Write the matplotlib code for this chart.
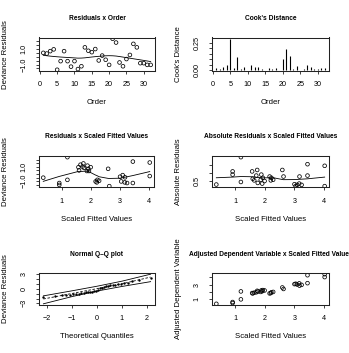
import matplotlib
matplotlib.use("Agg")
import matplotlib.pyplot as plt
import numpy as np
from statistics import NormalDist

# residuals in observation order (panel 1)
order = list(range(1, 33))
resid = [0.51, 0.42, 0.73, 0.96, -1.67, -0.56, 0.73, -0.56, -1.27, -0.56,
         -1.58, -1.22, 1.22, 0.78, 0.60, 1.00, -0.47, 0.16, -0.38, -1.04,
         2.33, 1.84, -0.73, -1.22, -0.29, 0.24, 1.67, 1.22, -0.82, -0.82,
         -1.04, -1.04]
cooks = [0.016, 0.010, 0.032, 0.045, 0.290, 0.016, 0.120, 0.013, 0.030, 0.003,
         0.048, 0.032, 0.029, 0.010, 0.003, 0.019, 0.010, 0.016, 0.003, 0.100,
         0.194, 0.130, 0.010, 0.039, 0.003, 0.010, 0.048, 0.029, 0.010, 0.010,
         0.023, 0.023]

# values against scaled fitted values (panels 3, 4, 6)
fitted = [0.36, 0.91, 0.91, 1.19, 1.19, 1.57, 1.74, 1.59, 1.71, 1.64,
          1.76, 1.88, 1.93, 1.86, 1.99, 1.91, 2.16, 2.22, 2.20, 2.28,
          2.59, 2.63, 3.00, 3.04, 3.09, 3.16, 3.17, 3.24, 3.44, 3.44,
          4.02, 4.02]
resid_fit = [-0.50, -1.24, -1.50, 2.33, -0.80, 0.94, 1.46, 0.50, 1.03, 1.29,
             0.85, 1.16, 0.42, 0.42, 0.94, 0.72, -1.02, -0.80, -1.15, -0.93,
             0.72, -1.67, -0.37, -1.02, -0.15, -1.15, -0.45, -1.24, 1.72, -1.24,
             1.59, -0.28]
abs_resid = [0.28, 1.10, 0.90, 1.99, 0.44, 1.10, 1.19, 0.64, 0.84, 0.54,
             0.38, 0.90, 0.70, 0.58, 0.50, 0.34, 0.78, 0.70, 0.54, 0.58,
             1.19, 0.78, 0.30, 0.18, 0.26, 0.34, 0.78, 0.26, 1.55, 0.84,
             1.45, 0.18]
adj_dep = [0.40, 0.64, 0.50, 2.07, 1.00, 1.85, 2.15, 1.80, 1.95, 1.90,
           2.05, 2.20, 2.25, 2.00, 2.20, 2.10, 1.80, 1.95, 1.85, 2.00,
           2.60, 2.40, 3.05, 3.10, 3.00, 3.15, 2.85, 2.95, 4.25, 3.18,
           4.39, 4.00]

# simulated envelope for the Q-Q plot
env_q = [-2.15, -1.0, 0.0, 1.0, 2.15]
env_lower = [-3.10, -1.60, -0.45, 0.50, 1.50]
env_mid = [-2.10, -0.95, 0.05, 1.05, 2.45]
env_upper = [-1.45, -0.40, 0.55, 1.60, 3.05]


def lowess(x, y, f=2/3, it=3):
    x = np.asarray(x, float)
    y = np.asarray(y, float)
    idx = np.argsort(x, kind="stable")
    x, y = x[idx], y[idx]
    n = len(x)
    r = int(np.ceil(f * n))
    delta = np.ones(n)
    yest = np.zeros(n)
    for _ in range(it + 1):
        for i in range(n):
            d = np.abs(x - x[i])
            h = np.sort(d)[r - 1]
            w = np.clip(d / h, 0, 1)
            w = (1 - w ** 3) ** 3 * delta
            sw = w.sum()
            xm = (w * x).sum() / sw
            ym = (w * y).sum() / sw
            sxx = (w * (x - xm) ** 2).sum()
            b = (w * (x - xm) * (y - ym)).sum() / sxx if sxx > 1e-12 else 0
            yest[i] = ym + b * (x[i] - xm)
        res = y - yest
        s = np.median(np.abs(res))
        u = np.clip(res / (6 * s), -1, 1)
        delta = (1 - u ** 2) ** 2
    return x, yest


plt.rcParams['font.family'] = ['Liberation Sans', 'DejaVu Sans']
W, H = 349, 353
fig = plt.figure(figsize=(W / 100, H / 100), dpi=100)


def panel(l, t, r, b, title, xlabel, ylabel):
    ax = fig.add_axes([l / W, 1 - b / H, (r - l) / W, (b - t) / H])
    hpx, wpx = b - t, r - l
    for s in ax.spines.values():
        s.set_linewidth(0.75)
        s.set_color("#222222")
    ax.tick_params(length=2.4, width=0.6, labelsize=5.2, color="#222222")
    ax.tick_params(axis="x", pad=5.0)
    ax.tick_params(axis="y", pad=6.0)
    ax.text(0.5, 1 + 19 / hpx, title, transform=ax.transAxes,
            ha="center", va="center", fontsize=4.8, fontweight="bold")
    ax.set_xlabel(xlabel, fontsize=5.6)
    ax.set_ylabel(ylabel, fontsize=5.6)
    ax.xaxis.set_label_coords(0.5, -32 / hpx)
    ax.xaxis.label.set_va("center")
    ax.yaxis.set_label_coords(-33 / wpx, 0.5)
    ax.yaxis.label.set_va("center")
    ax.margins(0.04)
    return ax


pt = dict(marker="o", s=7, facecolors="none", edgecolors="black",
          linewidths=0.55)

# 1. residuals x order
ax1 = panel(39, 37.5, 155, 71, "Residuals x Order", "Order", "Deviance Residuals")
ax1.scatter(order, resid, **pt)
sx, sy = lowess(order, resid)
ax1.plot(sx, sy, color="black", lw=0.6)
ax1.set_xticks(range(0, 31, 5))
ax1.set_yticks([-1.5, -1.0, -0.5, 0, 0.5, 1.0, 1.5, 2.0])
ax1.set_yticklabels(["", "\u22121.0", "", "", "", "1.0", "", ""],
                    rotation=90, va="center")

# 2. cook's distance
ax2 = panel(212, 37.5, 329, 71, "Cook's Distance", "Order", "Cook's Distance")
ax2.vlines(order, 0, cooks, color="black", lw=0.8)
ax2.set_xlim(1 - 0.04 * 31, 32 + 0.04 * 31)
ax2.set_ylim(min(cooks) - 0.04 * max(cooks), max(cooks) * 1.04)
ax2.set_xticks(range(0, 31, 5))
ax2.set_yticks([0, 0.05, 0.10, 0.15, 0.20, 0.25])
ax2.set_yticklabels(["0.00", "", "", "", "", "0.25"], rotation=90, va="center")

# 3. residuals x fitted
ax3 = panel(39, 156, 154, 187.3, "Residuals x Scaled Fitted Values",
            "Scaled Fitted Values", "Deviance Residuals")
ax3.scatter(fitted, resid_fit, **pt)
sx, sy = lowess(fitted, resid_fit)
ax3.plot(sx, sy, color="black", lw=0.6)
ax3.set_xticks([1, 2, 3, 4])
ax3.set_yticks([-1.5, -1.0, -0.5, 0, 0.5, 1.0, 1.5, 2.0])
ax3.set_yticklabels(["", "\u22121.0", "", "", "", "1.0", "", ""],
                    rotation=90, va="center")

# 4. absolute residuals x fitted
ax4 = panel(212, 156, 329, 187.3, "Absolute Residuals x Scaled Fitted Values",
            "Scaled Fitted Values", "Absolute Residuals")
ax4.scatter(fitted, abs_resid, **pt)
sx, sy = lowess(fitted, abs_resid)
ax4.plot(sx, sy, color="black", lw=0.6)
ax4.set_xticks([1, 2, 3, 4])
ax4.set_yticks([0.5, 1.0, 1.5])
ax4.set_yticklabels(["0.5", "", ""], rotation=90, va="center")

# 5. normal Q-Q plot with envelope
theo = [NormalDist().inv_cdf((i - 0.5) / len(resid)) for i in range(1, len(resid) + 1)]
ax5 = panel(39, 273, 155, 305, "Normal Q\u2013Q plot",
            "Theoretical Quantiles", "Deviance Residuals")
ax5.scatter(theo, sorted(resid), s=3, color="black", linewidths=0)
ax5.plot(env_q, env_lower, color="black", lw=0.6)
ax5.plot(env_q, env_upper, color="black", lw=0.6)
ax5.plot(env_q, env_mid, color="black", lw=0.6, ls=(0, (3, 2)))
ax5.set_xticks([-2, -1, 0, 1, 2])
ax5.set_xticklabels(["\u22122", "\u22121", "0", "1", "2"])
ax5.set_yticks([-3, -2, -1, 0, 1, 2, 3])
ax5.set_yticklabels(["\u22123", "", "", "0", "", "", "3"], rotation=90, va="center")

# 6. adjusted dependent variable x fitted
ax6 = panel(212, 273, 329, 305,
            "Adjusted Dependent Variable x Scaled Fitted Values",
            "Scaled Fitted Values", "Adjusted Dependent Variable")
ax6.scatter(fitted, adj_dep, **pt)
ax6.set_xticks([1, 2, 3, 4])
ax6.set_yticks([1, 2, 3, 4])
ax6.set_yticklabels(["1", "", "3", ""], rotation=90, va="center")

fig.savefig("out.png", dpi=100)
